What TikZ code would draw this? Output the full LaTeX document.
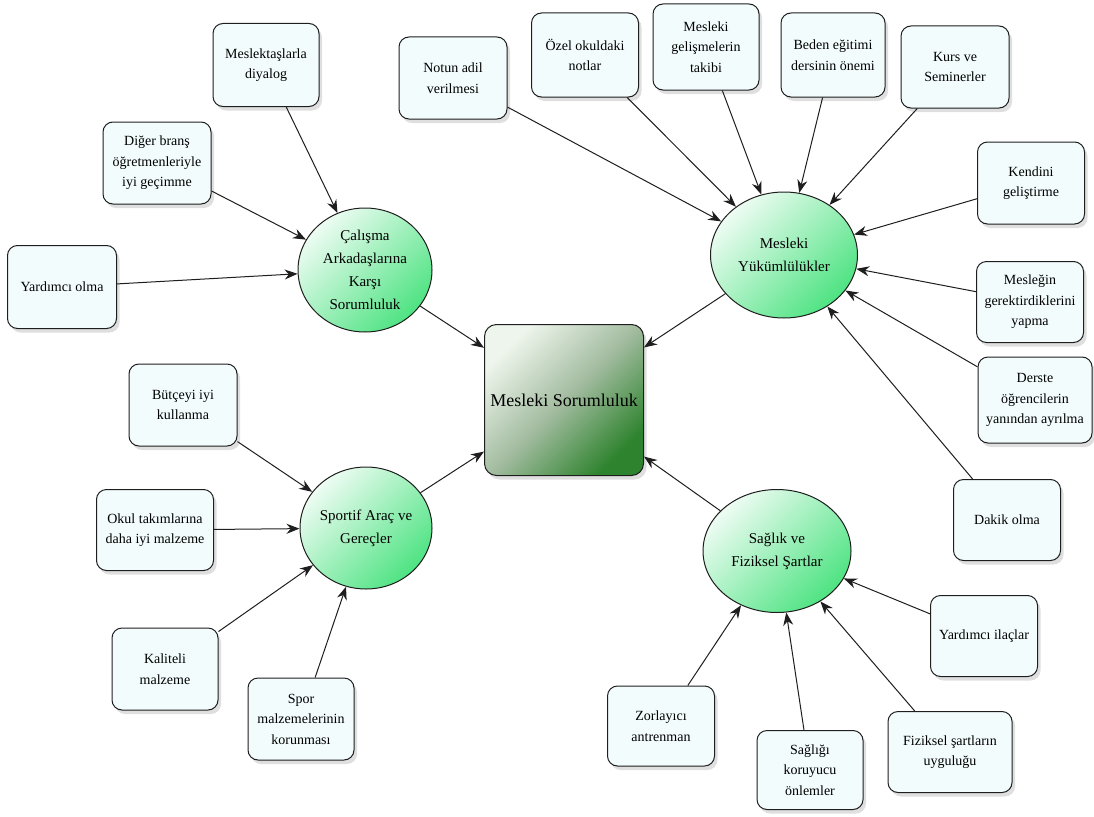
\documentclass[tikz,border=0pt]{standalone}
\usepackage{fontspec}
\setmainfont{Liberation Serif}
\usetikzlibrary{shapes.geometric,shadows,arrows.meta}
\definecolor{leaffill}{HTML}{F3FCFD}
\definecolor{ellA}{HTML}{EEFCF3}
\definecolor{ellB}{HTML}{4EE382}
\definecolor{cenA}{HTML}{EEF5EC}
\definecolor{cenM}{HTML}{A3BCA0}
\definecolor{cenB}{HTML}{2E832E}
\definecolor{edge}{HTML}{1E1E1E}
\tikzset{
  leaf/.style={draw=edge, line width=1pt, rounded corners=10pt, fill=leaffill,
    align=center, inner sep=2pt, font=\fontsize{14}{20.5}\selectfont,
    drop shadow={opacity=0.25, shadow xshift=3pt, shadow yshift=-4pt}},
  hub/.style={draw=edge, line width=1pt, ellipse, inner sep=0pt, align=center,
    top color=ellA, bottom color=ellB, shading angle=45,
    font=\fontsize{15}{23}\selectfont},
  centre/.style={draw=edge, line width=1pt, rounded corners=12pt, inner sep=0pt,
    top color=cenA, bottom color=cenB, middle color=cenM, shading angle=45,
    font=\fontsize{18}{22}\selectfont,
    drop shadow={opacity=0.25, shadow xshift=3pt, shadow yshift=-4pt}},
  link/.style={draw=edge, line width=1pt, -{Stealth[length=13pt,width=10pt]}}
}
\begin{document}
\begin{tikzpicture}[x=1pt,y=-1pt]
\useasboundingbox (0,0) rectangle (1094,816);
% centre
\node[centre, minimum width=159pt, minimum height=151pt] (C) at (564,400) {Mesleki Sorumluluk};
% hubs
\node[hub, minimum width=134pt, minimum height=124pt] (hA) at (365,270) {Çalışma\\Arkadaşlarına\\Karşı\\Sorumluluk};
\node[hub, minimum width=147pt, minimum height=126pt] (hY) at (784,255) {Mesleki\\Yükümlülükler};
\node[hub, minimum width=132pt, minimum height=122pt] (hS) at (366,528) {Sportif Araç ve\\Gereçler};
\node[hub, minimum width=148pt, minimum height=123pt] (hH) at (777,551) {Sağlık ve\\Fiziksel Şartlar};
% leaves of hA
\node[leaf, minimum width=106pt, minimum height=83pt] (a1) at (266,65) {Meslektaşlarla\\diyalog};
\node[leaf, minimum width=108pt, minimum height=82pt] (a2) at (157,163) {Diğer branş\\öğretmenleriyle\\iyi geçimme};
\node[leaf, minimum width=109pt, minimum height=83pt] (a3) at (62,287) {Yardımcı olma};
% leaves of hY
\node[leaf, minimum width=108pt, minimum height=82pt] (y1) at (453,78) {Notun adil\\verilmesi};
\node[leaf, minimum width=107pt, minimum height=84pt] (y2) at (585,55) {Özel okuldaki\\notlar};
\node[leaf, minimum width=106pt, minimum height=86pt] (y3) at (706,47) {Mesleki\\gelişmelerin\\takibi};
\node[leaf, minimum width=104pt, minimum height=84pt] (y4) at (833,55) {Beden eğitimi\\dersinin önemi};
\node[leaf, minimum width=108pt, minimum height=82pt] (y5) at (955,67) {Kurs ve\\Seminerler};
\node[leaf, minimum width=107pt, minimum height=82pt] (y6) at (1031,183) {Kendini\\geliştirme};
\node[leaf, minimum width=107pt, minimum height=81pt] (y7) at (1030,302) {Mesleğin\\gerektirdiklerini\\yapma};
\node[leaf, minimum width=114pt, minimum height=86pt] (y8) at (1035,400) {Derste\\öğrencilerin\\yanından ayrılma};
\node[leaf, minimum width=107pt, minimum height=81pt] (y9) at (1007,520) {Dakik olma};
% leaves of hH
\node[leaf, minimum width=107pt, minimum height=81pt] (h1) at (984,636) {Yardımcı ilaçlar};
\node[leaf, minimum width=124pt, minimum height=81pt] (h2) at (950,752) {Fiziksel şartların\\uyguluğu};
\node[leaf, minimum width=106pt, minimum height=79pt] (h3) at (810,770) {Sağlığı\\koruyucu\\önlemler};
\node[leaf, minimum width=107pt, minimum height=80pt] (h4) at (661,726) {Zorlayıcı\\antrenman};
% leaves of hS
\node[leaf, minimum width=108pt, minimum height=82pt] (s1) at (183,405) {Bütçeyi iyi\\kullanma};
\node[leaf, minimum width=117pt, minimum height=81pt] (s2) at (155,530) {Okul takımlarına\\daha iyi malzeme};
\node[leaf, minimum width=106pt, minimum height=82pt] (s3) at (165,669) {Kaliteli\\malzeme};
\node[leaf, minimum width=106pt, minimum height=82pt] (s4) at (301,719) {Spor\\malzemelerinin\\korunması};
% connectors
\foreach \n in {a1,a2,a3} \draw[link] (\n) -- (hA);
\foreach \n in {y1,y2,y3,y4,y5,y6,y7,y8,y9} \draw[link] (\n) -- (hY);
\foreach \n in {h1,h2,h3,h4} \draw[link] (\n) -- (hH);
\foreach \n in {s1,s2,s3,s4} \draw[link] (\n) -- (hS);
\foreach \n in {hA,hY,hS,hH} \draw[link] (\n) -- (C);
\end{tikzpicture}
\end{document}
